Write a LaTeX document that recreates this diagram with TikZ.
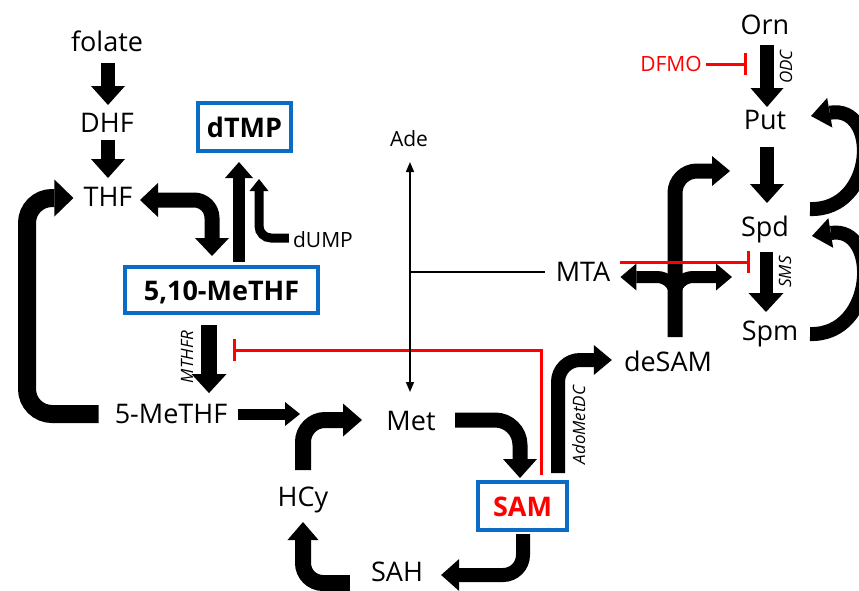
\documentclass[tikz,border=0pt]{standalone}
\usepackage{fontspec}
\setmainfont{Open Sans}
\usetikzlibrary{arrows.meta,calc}
\definecolor{boxblue}{HTML}{0A6CC4}
\definecolor{inhred}{HTML}{FF0000}
\tikzset{
 lbl/.style={font=\fontsize{27}{30}\selectfont, inner sep=0pt, text height=19.5pt, text depth=0pt},
 sml/.style={font=\fontsize{21}{24}\selectfont, inner sep=0pt, text height=15pt, text depth=0pt},
 enz/.style={font=\fontsize{17}{20}\selectfont\itshape, inner sep=0pt, text height=12pt, text depth=0pt, rotate=90},
 boxed/.style={draw=boxblue, line width=4pt, fill=white, font=\fontsize{27}{32}\selectfont\bfseries, inner sep=0pt, text height=20pt, text depth=0pt},
 blk/.style n args={3}{line width=#1, -{Triangle[width=#2,length=#3,line width=0pt]}},
 dblk/.style n args={3}{line width=#1, {Triangle[width=#2,length=#3,line width=0pt]}-{Triangle[width=#2,length=#3,line width=0pt]}},
 inh/.style={draw=inhred, line width=3pt, -{Bar[width=22pt,line width=3pt]}},
 thin/.style={line width=1.5pt}
}
\begin{document}
\begin{tikzpicture}[x=1pt,y=-1pt]
\useasboundingbox (0,0) rectangle (859,590);
\clip (0,0) rectangle (859,590);

% nodes
\node[lbl] (folate) at (107,42) {folate};
\node[lbl] (DHF) at (107,123) {DHF};
\node[lbl] (THF) at (108,197) {THF};
\node[boxed, minimum width=93pt, minimum height=48pt] (dTMP) at (244.5,127) {dTMP};
\node[sml] (dUMP) at (323,240) {dUMP};
\node[boxed, minimum width=193pt, minimum height=46pt] (M510) at (221.5,290) {5,10-MeTHF};
\node[enz] (MTHFR) at (187,357) {MTHFR};
\node[lbl] (M5) at (171,414) {5-MeTHF};
\node[lbl] (HCy) at (303,497) {HCy};
\node[lbl] (Met) at (411,421) {Met};
\node[lbl] (SAH) at (397,572) {SAH};
\node[enz] (AdoMetDC) at (579,425) {AdoMetDC};
\node[sml] (Ade) at (409,139) {Ade};
\node[lbl] (MTA) at (583,272) {MTA};
\node[lbl] (deSAM) at (668,362) {deSAM};
\node[lbl] (Orn) at (765,25) {Orn};
\node[enz] (ODC) at (786,67) {ODC};
\node[sml, text=inhred] (DFMO) at (671,64) {DFMO};
\node[lbl] (Put) at (765,120) {Put};
\node[lbl] (Spd) at (765,227) {Spd};
\node[enz] (SMS) at (785,272) {SMS};
\node[lbl] (Spm) at (770,331) {Spm};
\coordinate (j) at (410,272);

% folate cycle
\draw[blk={14pt}{34pt}{19pt}] ($(folate)+(1,21)$) -- ($(DHF)+(1,-18)$);
\draw[blk={14pt}{34pt}{19pt}] ($(DHF)+(1,17)$) -- ($(THF)+(0,-19)$);
\draw[dblk={15pt}{34pt}{18pt}, rounded corners=18pt] ($(THF)+(32,3)$) -- (212,200) -- ($(M510.north)+(-9.5,-9)$);
\draw[blk={12pt}{28pt}{16pt}] ($(M510.north)+(17.5,-3)$) -- ($(dTMP.south)+(-5.5,9)$);
\draw[blk={9pt}{19pt}{12pt}, rounded corners=12pt] ($(dUMP.west)+(-4,-2)$) -- (259,238) -- ($(dTMP.south)+(14.5,26)$);
\draw[blk={18pt}{37pt}{19pt}, rounded corners=25pt] ($(M5.west)+(-16,0)$) -- (27,414) -- (27,198) -- ($(THF.west)+(-10,1)$);
\draw[blk={16pt}{35pt}{19pt}] ($(M510.south)+(-12.5,10)$) -- ($(M5.north)+(38,-11)$);
\draw[blk={11pt}{24pt}{15pt}] ($(M5.east)+(11,0)$) -- ($(Met)+(-111,-7)$);

% methionine cycle
\draw[blk={16pt}{33pt}{19pt}, rounded corners=22pt] ($(HCy.north)+(0,-17)$) -- (303,420) -- ($(Met)+(-49,-1)$);
\draw[blk={15pt}{34pt}{19pt}, rounded corners=25pt] ($(Met)+(44,-1)$) -- (520,420) -- (520,478);
\node[boxed, text=inhred, minimum width=89pt, minimum height=48pt] (SAM) at (522.5,506) {SAM};
\draw[blk={14pt}{32pt}{18pt}, rounded corners=20pt] ($(SAM.south)+(0.5,2)$) -- (523,575) -- ($(SAH.east)+(18,3)$);
\draw[blk={16pt}{31pt}{18pt}, rounded corners=20pt] ($(SAH.west)+(-21,11)$) -- (303,583) -- ($(HCy)+(0,25)$);
\draw[blk={14pt}{30pt}{18pt}, rounded corners=22pt] ($(SAM.north)+(35.5,-7)$) -- (558,360) -- ($(deSAM.west)+(-12,-2)$);

% inhibitor SAM -> MTHFR
\draw[inh] ($(SAM.north)+(19,-5)$) -- (541.5,350) -- (233,350);

% Ade / MTA lines
\draw[thin, {Triangle[width=8pt,length=10pt]}-{Triangle[width=8pt,length=10pt]}] ($(Ade)+(1,23)$) -- ($(Met)+(-1,-29)$);
\draw[thin] ($(MTA.west)+(-11,0)$) -- (j);

% polyamines
\draw[blk={14pt}{33pt}{19pt}] ($(Orn)+(2,20)$) -- ($(Put)+(2,-13)$);
\draw[inh] ($(DFMO.east)+(4,0)$) -- ($(Orn)+(-18,39)$);
\draw[blk={14pt}{34pt}{19pt}] ($(Put)+(2,27)$) -- ($(Spd)+(2,-24)$);
\draw[blk={13pt}{35pt}{19pt}] ($(Spd)+(1,25)$) -- ($(Spm)+(-4,-19)$);
\draw[blk={15pt}{30pt}{18pt}, rounded corners=22pt] ($(deSAM)+(7,-25)$) -- (675,171) -- ($(Spd)+(-35,-56)$);
\draw[blk={12pt}{27pt}{16pt}, rounded corners=18pt] ($(deSAM)+(7,-42)$) -- (675,277) -- ($(MTA.east)+(10,5)$);
\draw[blk={12pt}{27pt}{16pt}, rounded corners=18pt] ($(deSAM)+(7,-42)$) -- (675,277) -- ($(Spd)+(-33,50)$);
\draw[inh] ($(MTA.east)+(10,-10)$) -- ($(Spd)+(-15,35)$);
\draw[blk={14pt}{30pt}{19pt}] ($(Spd)+(45,-18)$) .. controls (876,211) and (880,104) .. ($(Put)+(46,-4)$);
\draw[blk={14pt}{30pt}{19pt}] ($(Spm)+(40,3)$) .. controls (876,336) and (880,225) .. ($(Spd)+(47,9)$);
\end{tikzpicture}
\end{document}
